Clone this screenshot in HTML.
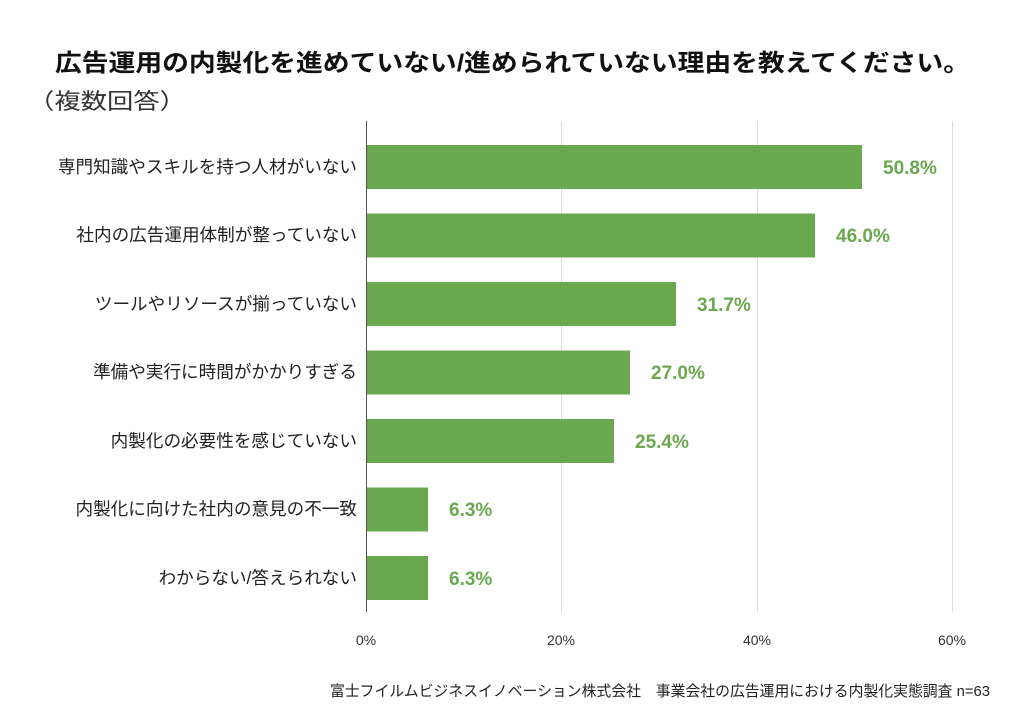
<!DOCTYPE html>
<html><head><meta charset="utf-8"><style>
body{margin:0;background:#fff;width:1024px;height:717px;overflow:hidden;font-family:"Liberation Sans","Noto Sans CJK JP",sans-serif;}
</style></head><body>
<svg width="1024" height="717" xmlns="http://www.w3.org/2000/svg" font-family="Liberation Sans, Noto Sans CJK JP, sans-serif">
<text x="55" y="71" textLength="915" lengthAdjust="spacingAndGlyphs" font-size="24" font-weight="bold" fill="#111">広告運用の内製化を進めていない/進められていない理由を教えてください。</text>
<text x="28" y="109" textLength="158" lengthAdjust="spacingAndGlyphs" font-size="22" fill="#333">（複数回答）</text>
<g stroke="#ddd" stroke-width="1">
<line x1="561.5" y1="121" x2="561.5" y2="612"/>
<line x1="757.5" y1="121" x2="757.5" y2="612"/>
<line x1="952.5" y1="121" x2="952.5" y2="612"/>
</g>
<line x1="366.5" y1="121" x2="366.5" y2="612" stroke="#555" stroke-width="1"/>
<g fill="#6aa84f">
<rect x="367" y="145" width="495" height="44"/>
<rect x="367" y="213.5" width="448" height="44"/>
<rect x="367" y="282" width="309" height="44"/>
<rect x="367" y="350.5" width="263" height="44"/>
<rect x="367" y="419" width="247" height="44"/>
<rect x="367" y="487.5" width="61" height="44"/>
<rect x="367" y="556" width="61" height="44"/>
</g>
<g font-size="19" font-weight="bold" fill="#6aa84f">
<text x="883" y="174">50.8%</text>
<text x="836" y="242">46.0%</text>
<text x="697" y="311">31.7%</text>
<text x="651" y="379">27.0%</text>
<text x="635" y="448">25.4%</text>
<text x="449" y="516">6.3%</text>
<text x="449" y="585">6.3%</text>
</g>
<g font-size="17.6" fill="#222" text-anchor="end">
<text x="357" y="173">専門知識やスキルを持つ人材がいない</text>
<text x="357" y="241">社内の広告運用体制が整っていない</text>
<text x="357" y="310">ツールやリソースが揃っていない</text>
<text x="357" y="378">準備や実行に時間がかかりすぎる</text>
<text x="357" y="447">内製化の必要性を感じていない</text>
<text x="357" y="515">内製化に向けた社内の意見の不一致</text>
<text x="357" y="584">わからない/答えられない</text>
</g>
<g font-size="14" fill="#333" text-anchor="middle">
<text x="366" y="645">0%</text>
<text x="561" y="645">20%</text>
<text x="757" y="645">40%</text>
<text x="952" y="645">60%</text>
</g>
<text x="330" y="696" textLength="660" lengthAdjust="spacingAndGlyphs" font-size="15" fill="#222">富士フイルムビジネスイノベーション株式会社　事業会社の広告運用における内製化実態調査 n=63</text>
</svg>
</body></html>
